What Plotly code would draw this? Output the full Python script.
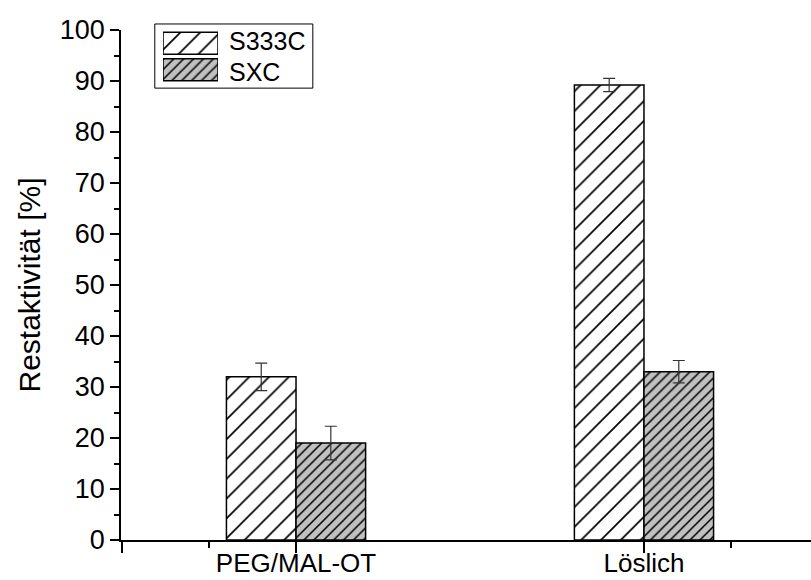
import plotly.graph_objects as go

# Residual activity of two enzyme variants, immobilised vs. soluble
categories = ["PEG/MAL-OT", "Löslich"]
series_names = ["S333C", "SXC"]
s333c_values = [32.0, 89.2]
s333c_errors = [2.7, 1.3]
sxc_values = [19.0, 33.0]
sxc_errors = [3.3, 2.2]

y_ticks = [0, 10, 20, 30, 40, 50, 60, 70, 80, 90, 100]

FONT = "Arial, Liberation Sans, sans-serif"
positions = list(range(len(categories)))

fig = go.Figure()

styles = [
    dict(bg="#ffffff", size=14, solidity=0.12),
    dict(bg="#c0c0c0", size=7, solidity=0.22),
]


def bar_marker(st):
    return dict(
        color=st["bg"],
        line=dict(color="#000000", width=1.5),
        pattern=dict(shape="/", fgcolor="#000000", bgcolor=st["bg"],
                     size=st["size"], solidity=st["solidity"],
                     fillmode="replace"),
    )


for name, vals, errs, st in zip(series_names, [s333c_values, sxc_values],
                                [s333c_errors, sxc_errors], styles):
    fig.add_trace(go.Bar(
        name=name,
        x=positions,
        y=vals,
        error_y=dict(type="data", array=errs, visible=True,
                     color="#333333", thickness=1.2, width=6),
        marker=bar_marker(st),
        showlegend=False,
    ))

# Legend key: large hatched swatches on a small helper axis, labels as text
key_rows = list(range(len(series_names)))[::-1]
for name, row, st in zip(series_names, key_rows, styles):
    fig.add_trace(go.Bar(
        x=[1], y=[row], orientation="h", width=0.83,
        marker=bar_marker(st), xaxis="x2", yaxis="y2",
        showlegend=False, hoverinfo="skip",
    ))

label_y = [0.978, 0.918]
for name, ly in zip(series_names, label_y):
    fig.add_annotation(
        text=name, xref="paper", yref="paper", x=0.1536, y=ly,
        xanchor="left", yanchor="middle", showarrow=False,
        font=dict(family=FONT, size=25, color="#000000"),
    )

fig.add_shape(
    type="rect", xref="paper", yref="paper",
    x0=0.049, x1=0.278, y0=0.886, y1=1.0118,
    line=dict(color="#000000", width=1), fillcolor="rgba(0,0,0,0)",
    layer="below",
)

fig.update_layout(
    width=811, height=580,
    margin=dict(l=121, r=0, t=30, b=40, autoexpand=False),
    paper_bgcolor="white", plot_bgcolor="white",
    barmode="group", bargap=0.6, bargroupgap=0,
    font=dict(family=FONT, size=27, color="#000000"),
    showlegend=False,
    xaxis=dict(
        range=[-0.503, 1.48],
        tickmode="array",
        tickvals=[-0.5] + positions,
        ticktext=[""] + categories,
        ticks="outside", ticklen=11, tickwidth=1.5, tickcolor="#000000",
        minor=dict(tickvals=[-0.25, 1.25], ticks="outside", ticklen=6,
                   tickwidth=1.5, tickcolor="#000000"),
        showline=True, linecolor="#000000", linewidth=1.5,
        showgrid=False, zeroline=False,
        tickfont=dict(family=FONT, size=26),
        ticklabelstandoff=-12,
    ),
    yaxis=dict(
        range=[0, 100],
        tickmode="array", tickvals=y_ticks,
        ticks="outside", ticklen=9, tickwidth=1.5, tickcolor="#000000",
        minor=dict(dtick=5, tick0=0, ticks="outside", ticklen=5,
                   tickwidth=1.5, tickcolor="#000000", showgrid=False),
        showline=True, linecolor="#000000", linewidth=1.5,
        showgrid=False, zeroline=False,
        tickfont=dict(family=FONT, size=27),
        title=dict(text="Restaktivität [%]", standoff=10,
                   font=dict(family=FONT, size=30)),
    ),
    xaxis2=dict(domain=[0.0609, 0.1406], range=[0, 1], anchor="y2",
                visible=False, fixedrange=True),
    yaxis2=dict(domain=[0.896, 1.0], range=[-0.5, 1.5], anchor="x2",
                visible=False, fixedrange=True),
)

fig.write_html("out.html")
